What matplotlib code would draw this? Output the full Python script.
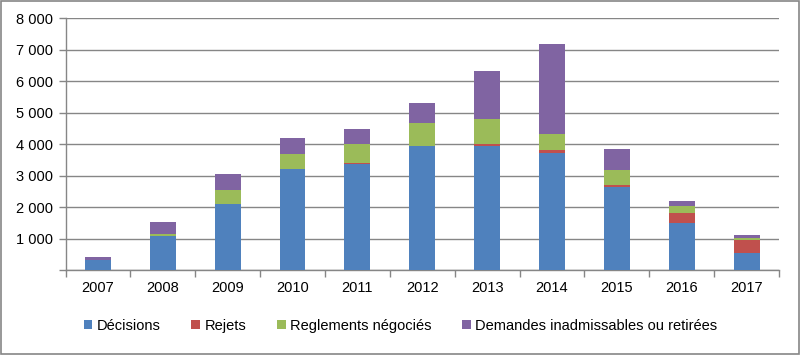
import numpy as np
import matplotlib.pyplot as plt
from matplotlib.patches import Rectangle

years = ['2007', '2008', '2009', '2010', '2011', '2012', '2013', '2014', '2015', '2016', '2017']
decisions = [330, 1090, 2110, 3210, 3380, 3950, 3950, 3720, 2640, 1495, 540]
rejets = [0, 0, 0, 0, 30, 0, 65, 105, 75, 330, 425]
reglements = [0, 65, 445, 490, 595, 720, 795, 510, 475, 220, 65]
demandes = [85, 380, 510, 510, 490, 635, 1525, 2860, 665, 160, 95]

series = [
    ('Décisions', decisions, '#4F81BD'),
    ('Rejets', rejets, '#C0504D'),
    ('Reglements négociés', reglements, '#9BBB59'),
    ('Demandes inadmissables ou retirées', demandes, '#8064A2'),
]

plt.rcParams['font.family'] = ['Liberation Sans', 'DejaVu Sans']

fig = plt.figure(figsize=(8.01, 3.55), dpi=100)
fig.patches.append(Rectangle((0.001, 0.002), 0.997, 0.995, transform=fig.transFigure,
                             fill=False, edgecolor='#868686', linewidth=1.2))
ax = fig.add_axes([65.5 / 801, 1 - 270 / 355, (779 - 65.5) / 801, (270 - 18.3) / 355])

x = np.arange(len(years))
bottom = np.zeros(len(years))
for name, vals, color in series:
    ax.bar(x, vals, width=0.4, bottom=bottom, color=color, label=name, zorder=3)
    bottom += np.array(vals)

ax.set_xlim(-0.5, len(years) - 0.5)
ax.set_ylim(0, 8000)
yt = np.arange(0, 8001, 1000)
ax.set_yticks(yt)
ax.set_yticklabels([''] + [f'{v // 1000} 000' for v in yt[1:]])
ax.yaxis.grid(True, color='#868686', linewidth=1.0, zorder=0)
ax.set_xticks(x)
ax.set_xticklabels(years)
ax.set_xticks(np.arange(-0.5, len(years)), minor=True)
ax.tick_params(axis='x', which='major', length=0, pad=8, labelsize=10.5)
ax.tick_params(axis='x', which='minor', length=5, color='#868686', width=1)
ax.tick_params(axis='y', length=5, color='#868686', width=1, labelsize=10.5, pad=4)

for s in ['top', 'right']:
    ax.spines[s].set_visible(False)
for s in ['left', 'bottom']:
    ax.spines[s].set_color('#868686')
    ax.spines[s].set_linewidth(1)

ax.legend(loc='center', bbox_to_anchor=(0.5, (355 - 326) / 355), bbox_transform=fig.transFigure,
          ncol=4, frameon=False, fontsize=10.5, handlelength=0.6, handleheight=0.6,
          handletextpad=0.3, columnspacing=2.1)

plt.savefig('out.png', dpi=100)
